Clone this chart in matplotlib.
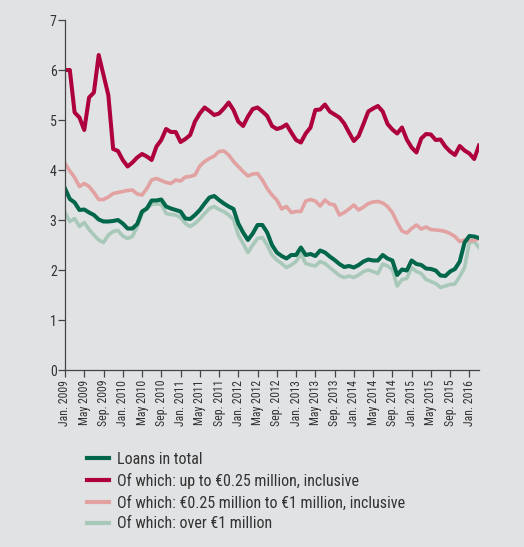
import matplotlib

matplotlib.use("Agg")
import matplotlib.pyplot as plt
import numpy as np

# monthly, Jan. 2009 .. Mar. 2016
loans_total = [
    3.63, 3.42, 3.35, 3.20, 3.21, 3.15, 3.10, 3.01, 2.97, 2.97, 2.98, 3.00,
    2.93, 2.83, 2.83, 2.92, 3.17, 3.23, 3.39, 3.39, 3.41, 3.27, 3.23, 3.20,
    3.17, 3.03, 3.02, 3.10, 3.20, 3.33, 3.45, 3.48, 3.40, 3.33, 3.27, 3.22,
    2.93, 2.75, 2.60, 2.73, 2.90, 2.90, 2.75, 2.50, 2.35, 2.28, 2.23, 2.30,
    2.30, 2.45, 2.30, 2.32, 2.28, 2.39, 2.35, 2.27, 2.20, 2.12, 2.06, 2.08,
    2.05, 2.10, 2.17, 2.21, 2.19, 2.19, 2.30, 2.23, 2.19, 1.90, 2.01, 1.99,
    2.19, 2.12, 2.10, 2.03, 2.02, 1.99, 1.89, 1.88, 1.97, 2.02, 2.17, 2.55,
    2.68, 2.67, 2.64,
]
upto_025 = [
    6.00, 6.00, 5.15, 5.05, 4.80, 5.45, 5.55, 6.30, 5.90, 5.50, 4.42, 4.38,
    4.20, 4.07, 4.15, 4.25, 4.32, 4.27, 4.20, 4.47, 4.60, 4.82, 4.76, 4.76,
    4.56, 4.62, 4.70, 4.97, 5.13, 5.25, 5.18, 5.10, 5.13, 5.23, 5.35, 5.20,
    4.97, 4.88, 5.07, 5.22, 5.25, 5.17, 5.08, 4.88, 4.82, 4.85, 4.91, 4.75,
    4.60, 4.55, 4.73, 4.85, 5.20, 5.21, 5.31, 5.17, 5.11, 5.05, 4.93, 4.75,
    4.58, 4.68, 4.92, 5.17, 5.23, 5.28, 5.17, 4.92, 4.81, 4.73, 4.85, 4.61,
    4.45, 4.35, 4.63, 4.72, 4.71, 4.60, 4.61, 4.47, 4.37, 4.30, 4.48, 4.39,
    4.33, 4.22, 4.49,
]
from_025_to_1 = [
    4.13, 3.98, 3.85, 3.67, 3.73, 3.67, 3.55, 3.41, 3.41, 3.46, 3.53, 3.55,
    3.57, 3.59, 3.60, 3.52, 3.50, 3.63, 3.80, 3.83, 3.79, 3.75, 3.73, 3.80,
    3.78, 3.86, 3.87, 3.90, 4.08, 4.17, 4.23, 4.28, 4.37, 4.38, 4.30, 4.17,
    4.07, 3.97, 3.88, 3.92, 3.93, 3.80, 3.63, 3.50, 3.40, 3.22, 3.27, 3.15,
    3.17, 3.17, 3.38, 3.41, 3.38, 3.28, 3.40, 3.32, 3.30, 3.10, 3.15, 3.22,
    3.30, 3.20, 3.26, 3.33, 3.36, 3.37, 3.34, 3.27, 3.15, 2.95, 2.78, 2.74,
    2.83, 2.90, 2.82, 2.86, 2.81, 2.80, 2.79, 2.77, 2.73, 2.67, 2.57, 2.60,
    2.59, 2.59, 2.63,
]
over_1 = [
    3.15, 2.97, 3.03, 2.87, 2.95, 2.81, 2.70, 2.60, 2.55, 2.70, 2.77, 2.79,
    2.68, 2.63, 2.67, 2.87, 3.13, 3.23, 3.31, 3.32, 3.32, 3.13, 3.11, 3.10,
    3.05, 2.93, 2.87, 2.93, 3.02, 3.13, 3.23, 3.27, 3.21, 3.17, 3.10, 3.01,
    2.70, 2.53, 2.35, 2.50, 2.63, 2.65, 2.50, 2.30, 2.20, 2.13, 2.05, 2.10,
    2.17, 2.32, 2.13, 2.10, 2.08, 2.17, 2.13, 2.05, 1.97, 1.89, 1.85, 1.88,
    1.85, 1.90, 1.97, 2.00, 1.97, 1.93, 2.12, 2.08, 2.01, 1.68, 1.81, 1.83,
    2.05, 1.97, 1.93, 1.81, 1.77, 1.73, 1.65, 1.68, 1.71, 1.72, 1.87, 2.05,
    2.55, 2.57, 2.45,
]
tick_labels = [
    "Jan. 2009", "May 2009", "Sep. 2009", "Jan. 2010", "May 2010", "Sep. 2010",
    "Jan. 2011", "May 2011", "Sep. 2011", "Jan. 2012", "May 2012", "Sep. 2012",
    "Jan. 2013", "May 2013", "Sep. 2013", "Jan. 2014", "May 2014", "Sep. 2014",
    "Jan. 2015", "May 2015", "Sep. 2015", "Jan. 2016",
]
legend_labels = [
    "Loans in total",
    "Of which: up to \u20ac0.25 million, inclusive",
    "Of which: \u20ac0.25 million to \u20ac1 million, inclusive",
    "Of which: over \u20ac1 million",
]

BG = "#e1e2e4"
GREEN = "#00674b"
CRIMSON = "#ae003f"
PINK = "#e2a2a2"
LIGHT_GREEN = "#a8c9b9"
TEXT = "#333333"
FONT = ["Roboto Condensed", "DejaVu Sans"]

plt.rcParams["font.family"] = FONT

months = np.arange(len(loans_total))

fig = plt.figure(figsize=(5.24, 5.47), dpi=100, facecolor=BG)
ax = fig.add_axes([65 / 524, 1 - 370 / 547, (479 - 65) / 524, (370 - 20) / 547])
ax.set_facecolor(BG)

l4, = ax.plot(months, over_1, color=LIGHT_GREEN, lw=2.6, solid_joinstyle="round")
l3, = ax.plot(months, from_025_to_1, color=PINK, lw=2.6, solid_joinstyle="round")
l2, = ax.plot(months, upto_025, color=CRIMSON, lw=2.9, solid_joinstyle="round")
l1, = ax.plot(months, loans_total, color=GREEN, lw=2.9, solid_joinstyle="round")

ax.set_xlim(0, len(loans_total) - 1)
ax.set_ylim(0, 7)
ax.set_yticks(range(0, 8))
ax.set_xticks(np.arange(len(tick_labels)) * 4)
ax.set_xticklabels(tick_labels, rotation=90, fontsize=8.5, color=TEXT)
ax.tick_params(axis="y", labelsize=10, labelcolor=TEXT, length=5, width=0.9,
               color="#444444", pad=1)
ax.tick_params(axis="x", length=5, width=0.9, color="#444444", pad=2)

for side in ("top", "right"):
    ax.spines[side].set_visible(False)
for side in ("left", "bottom"):
    ax.spines[side].set_color("#444444")
    ax.spines[side].set_linewidth(0.9)

leg = fig.legend(
    [l1, l2, l3, l4], legend_labels,
    loc="upper left", bbox_to_anchor=(87 / 524, 1 - 452 / 547),
    frameon=False, borderpad=0, borderaxespad=0,
    handlelength=1.4, handletextpad=0.5, labelspacing=0.38,
    prop={"size": 11.5},
)
for txt in leg.get_texts():
    txt.set_color(TEXT)
for h in leg.get_lines():
    h.set_linewidth(3.0)

fig.savefig("out.png", dpi=100, facecolor=BG)
